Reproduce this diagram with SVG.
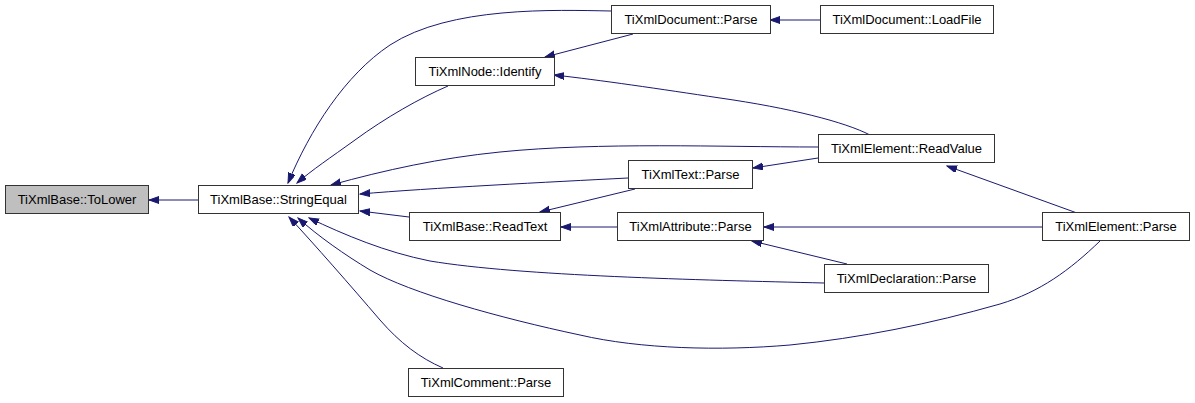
<svg xmlns="http://www.w3.org/2000/svg" width="1195" height="403" viewBox="0 0 1195 403">
<defs>
<style>
.node rect{fill:#ffffff;stroke:#333333;stroke-width:1}
.node.cur rect{fill:#bfbfbf}
.node text{font-family:"Liberation Sans",Arial,sans-serif;font-size:13px;fill:#000;text-anchor:middle}
.edges path{fill:none;stroke:#191970;stroke-width:1;marker-end:url(#arr)}
</style>
<marker id="arr" markerUnits="userSpaceOnUse" markerWidth="11" markerHeight="8" refX="10" refY="3.5" orient="auto">
<path d="M0,0 L10,3.5 L0,7 z" fill="#191970" stroke="#191970" stroke-width="1"/>
</marker>
</defs>
<rect width="1195" height="403" fill="#ffffff"/>
<g class="edges">
<path d="M198,200 L149,200"/>
<path d="M820,20 L770,20"/>
<path d="M633,34 L545,57"/>
<path d="M611,11 C555,10 450,6 390,45 C345,75 310,130 288,183"/>
<path d="M448,86 C420,98 385,118 355,140 C330,158 312,170 297,183"/>
<path d="M870,135 C845,122 790,108 720,98 C660,89 600,80 554,75"/>
<path d="M818,147 C720,147 600,142 500,152 C440,158 385,170 331,185"/>
<path d="M818,158 L753,168"/>
<path d="M628,178 C550,182 430,188 360,194"/>
<path d="M635,189 L540,212"/>
<path d="M409,217 L360,211"/>
<path d="M617,227 L561,227"/>
<path d="M1077,213 L947,166"/>
<path d="M1042,227 L764,227"/>
<path d="M847,264 L752,241"/>
<path d="M824,283 C700,280 520,276 430,261 C385,252 345,235 309,218"/>
<path d="M1100,241 C1070,270 1040,292 1000,304 C930,324 860,338 790,345 C720,351 640,349 580,335 C500,318 410,293 370,270 C345,255 318,236 298,218"/>
<path d="M443,368 C420,358 400,343 380,320 C350,285 315,245 289,217"/>
</g>
<g id="node-tolower" class="node cur"><rect x="5.5" y="185.5" width="143" height="28"/><text x="77" y="204">TiXmlBase::ToLower</text></g>
<g id="node-stringequal" class="node"><rect x="198.5" y="185.5" width="160" height="28"/><text x="278.5" y="204">TiXmlBase::StringEqual</text></g>
<g id="node-docparse" class="node"><rect x="611.5" y="5.5" width="159" height="28"/><text x="691" y="24">TiXmlDocument::Parse</text></g>
<g id="node-loadfile" class="node"><rect x="820.5" y="5.5" width="173" height="28"/><text x="907" y="24">TiXmlDocument::LoadFile</text></g>
<g id="node-identify" class="node"><rect x="415.5" y="57.5" width="139" height="28"/><text x="485" y="76">TiXmlNode::Identify</text></g>
<g id="node-textparse" class="node"><rect x="628.5" y="160.5" width="124" height="28"/><text x="690.5" y="179">TiXmlText::Parse</text></g>
<g id="node-readtext" class="node"><rect x="409.5" y="212.5" width="151" height="28"/><text x="485" y="231">TiXmlBase::ReadText</text></g>
<g id="node-attrparse" class="node"><rect x="617.5" y="212.5" width="146" height="28"/><text x="690.5" y="231">TiXmlAttribute::Parse</text></g>
<g id="node-readvalue" class="node"><rect x="818.5" y="134.5" width="176" height="28"/><text x="906.5" y="153">TiXmlElement::ReadValue</text></g>
<g id="node-elemparse" class="node"><rect x="1042.5" y="212.5" width="147" height="28"/><text x="1116" y="231">TiXmlElement::Parse</text></g>
<g id="node-declparse" class="node"><rect x="824.5" y="264.5" width="164" height="28"/><text x="906.5" y="283">TiXmlDeclaration::Parse</text></g>
<g id="node-commentparse" class="node"><rect x="408.5" y="368.5" width="155" height="28"/><text x="486" y="387">TiXmlComment::Parse</text></g>
</svg>
